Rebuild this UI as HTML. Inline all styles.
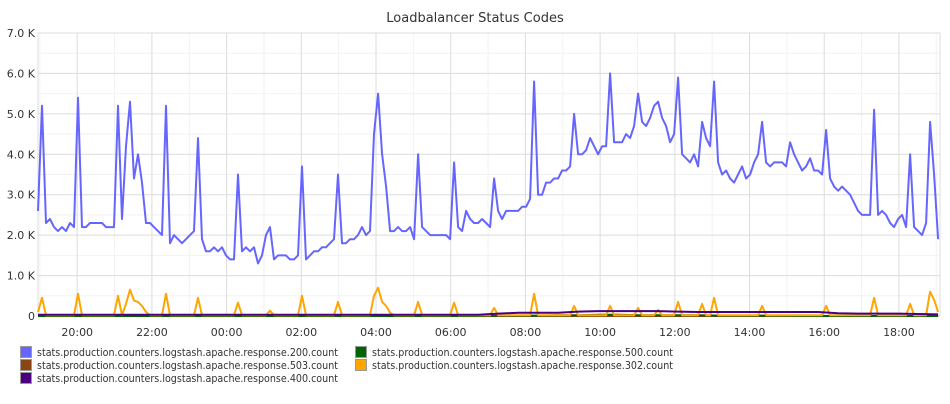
<!DOCTYPE html>
<html><head><meta charset="utf-8"><style>
html,body{margin:0;padding:0;background:#fff;}
body{width:950px;height:400px;overflow:hidden;font-family:"DejaVu Sans","Liberation Sans",sans-serif;}
svg text{font-family:"DejaVu Sans","Liberation Sans",sans-serif;}
</style></head><body>
<svg id="chart" width="950" height="400" xmlns="http://www.w3.org/2000/svg">
<text x="475" y="22" text-anchor="middle" font-size="13" fill="#333">Loadbalancer Status Codes</text>
<g id="grid"></g>
<g id="axes"></g>
<g id="series"></g>
<g id="legend"></g>
</svg>
<script>
const startHour = 18.95;
const endHour = 43.1;
const yTickValues = [0,1000,2000,3000,4000,5000,6000,7000];
const yTickLabels = ["0","1.0 K","2.0 K","3.0 K","4.0 K","5.0 K","6.0 K","7.0 K"];
const xTickHours = [20,22,24,26,28,30,32,34,36,38,40,42];
const xTickLabels = ["20:00","22:00","00:00","02:00","04:00","06:00","08:00","10:00","12:00","14:00","16:00","18:00"];
const seriesNames = ["stats.production.counters.logstash.apache.response.200.count","stats.production.counters.logstash.apache.response.500.count","stats.production.counters.logstash.apache.response.503.count","stats.production.counters.logstash.apache.response.302.count","stats.production.counters.logstash.apache.response.400.count"];
const s200 = [2.6,5.2,2.3,2.4,2.2,2.1,2.2,2.1,2.3,2.2,
5.4,2.2,2.2,2.3,2.3,2.3,2.3,2.2,2.2,2.2,
5.2,2.4,4.2,5.3,3.4,4.0,3.3,2.3,2.3,2.2,
2.1,2.0,5.2,1.8,2.0,1.9,1.8,1.9,2.0,2.1,
4.4,1.9,1.6,1.6,1.7,1.6,1.7,1.5,1.4,1.4,
3.5,1.6,1.7,1.6,1.7,1.3,1.5,2.0,2.2,1.4,
1.5,1.5,1.5,1.4,1.4,1.5,3.7,1.4,1.5,1.6,
1.6,1.7,1.7,1.8,1.9,3.5,1.8,1.8,1.9,1.9,
2.0,2.2,2.0,2.1,4.5,5.5,4.0,3.2,2.1,2.1,
2.2,2.1,2.1,2.2,1.9,4.0,2.2,2.1,2.0,2.0,
2.0,2.0,2.0,1.9,3.8,2.2,2.1,2.6,2.4,2.3,
2.3,2.4,2.3,2.2,3.4,2.6,2.4,2.6,2.6,2.6,
2.6,2.7,2.7,2.9,5.8,3.0,3.0,3.3,3.3,3.4,
3.4,3.6,3.6,3.7,5.0,4.0,4.0,4.1,4.4,4.2,
4.0,4.2,4.2,6.0,4.3,4.3,4.3,4.5,4.4,4.7,
5.5,4.8,4.7,4.9,5.2,5.3,4.9,4.7,4.3,4.5,
5.9,4.0,3.9,3.8,4.0,3.7,4.8,4.4,4.2,5.8,
3.8,3.5,3.6,3.4,3.3,3.5,3.7,3.4,3.5,3.8,
4.0,4.8,3.8,3.7,3.8,3.8,3.8,3.7,4.3,4.0,
3.8,3.6,3.7,3.9,3.6,3.6,3.5,4.6,3.4,3.2,
3.1,3.2,3.1,3.0,2.8,2.6,2.5,2.5,2.5,5.1,
2.5,2.6,2.5,2.3,2.2,2.4,2.5,2.2,4.0,2.2,
2.1,2.0,2.3,4.8,3.5,1.9];
const s302 = [100,450,20,20,20,20,20,20,20,20,
550,20,20,20,20,20,20,20,20,20,
500,20,300,650,380,350,250,100,20,20,
20,20,550,20,20,20,20,20,20,20,
450,20,20,20,20,20,20,20,20,20,
330,20,20,20,20,20,20,20,130,20,
20,20,20,20,20,20,500,20,20,20,
20,20,20,20,20,350,20,20,20,20,
20,20,20,20,500,700,350,250,80,20,
20,20,20,20,20,350,20,20,20,20,
20,20,20,20,330,20,20,20,20,20,
20,20,20,20,200,20,20,20,20,20,
20,20,20,20,550,20,20,20,20,20,
20,20,20,20,250,20,20,20,20,20,
20,20,20,250,20,20,20,20,20,20,
200,20,20,20,20,150,20,20,20,20,
350,20,20,20,20,20,300,20,20,450,
20,20,20,20,20,20,20,20,20,20,
20,250,20,20,20,20,20,20,20,20,
20,20,20,20,20,20,20,250,20,20,
20,20,20,20,20,20,20,20,20,450,
20,20,20,20,20,20,20,20,300,20,
20,20,20,600,400,100];
const s400 = [30,30,30,30,30,30,30,30,30,30,30,30,30,30,30,30,30,30,30,30,30,30,30,60,80,80,80,110,120,120,120,120,110,100,100,100,100,100,100,100,70,60,60,60,50,40];
const s500 = [0,0,0,0,0,0,0,0,0,0,0,0,0,0,0,0,0,0,0,0,0,0,0,10,10,10,20,20,30,30,20,20,20,20,10,10,10,10,0,0,0,0,0,0,0,0];
const s503 = [0,0,0,0,0,0,0,0,0,0];
const colors = ["#6666ff","#006400","#8b4513","#ffa500","#4b0082"];

const L=38,R=940,T=33,B=316;
const ns="http://www.w3.org/2000/svg";
function xs(h){return L+(h-startHour)/(endHour-startHour)*(R-L);}
function ys(v){return B-v/7000*(B-T);}
function mk(tag,attrs,parent){const e=document.createElementNS(ns,tag);for(const k in attrs)e.setAttribute(k,attrs[k]);parent.appendChild(e);return e;}
const grid=document.getElementById('grid'),axes=document.getElementById('axes'),ser=document.getElementById('series'),leg=document.getElementById('legend');
for(let v=500;v<7000;v+=1000){const l=mk('line',{x1:L,x2:R,y1:ys(v),y2:ys(v),stroke:'#f2f2f2','stroke-width':1},grid);

}
for(let h=19;h<=43;h+=2){const l=mk('line',{x1:xs(h),x2:xs(h),y1:T,y2:B,stroke:'#f2f2f2','stroke-width':1},grid);

}
yTickValues.forEach((v,i)=>{const l=mk('line',{x1:L,x2:R,y1:ys(v),y2:ys(v),stroke:'#dcdcdc','stroke-width':1},grid);


const t=mk('text',{x:35,y:ys(v)+4,'text-anchor':'end','font-size':11,fill:'#333'},axes);t.textContent=yTickLabels[i];

});
xTickHours.forEach((h,i)=>{const l=mk('line',{x1:xs(h),x2:xs(h),y1:T,y2:B,stroke:'#dcdcdc','stroke-width':1},grid);


const t=mk('text',{x:xs(h),y:336,'text-anchor':'middle','font-size':11,fill:'#333'},axes);t.textContent=xTickLabels[i];

});
const frame=mk('rect',{x:L,y:T,width:R-L,height:B-T,fill:'none',stroke:'#dcdcdc','stroke-width':1},grid);


function line(arr,scale,color,name,w){const n=arr.length;const pts=arr.map((v,i)=>xs(startHour+i*(endHour-0.05-startHour)/(n-1)).toFixed(1)+','+ys(v*scale).toFixed(1)).join(' ');
const p=mk('polyline',{points:pts,fill:'none',stroke:color,'stroke-width':w,'stroke-linejoin':'round'},ser);

}
line(s503,1,colors[2],'series-503-line',2);
line(s500,1,colors[1],'series-500-line',2);
line(s302,1,colors[3],'series-302-line',2);
line(s200,1000,colors[0],'series-200-line',2);
line(s400,1,colors[4],'series-400-line',2);
const legPos=[[20,352],[355,352],[20,365],[355,365],[20,378]];
legPos.forEach((pos,si)=>{const [x,y]=pos;
const g=mk('g',{},leg);


const r=mk('rect',{x:x+0.5,y:y-5.5,width:11,height:11,fill:colors[si],stroke:'#999','stroke-width':1},g);


const t=mk('text',{x:x+17,y:y+4,'font-size':11,fill:'#333',textLength:301,lengthAdjust:'spacingAndGlyphs'},g);t.textContent=seriesNames[si];

});
</script>
</body></html>
